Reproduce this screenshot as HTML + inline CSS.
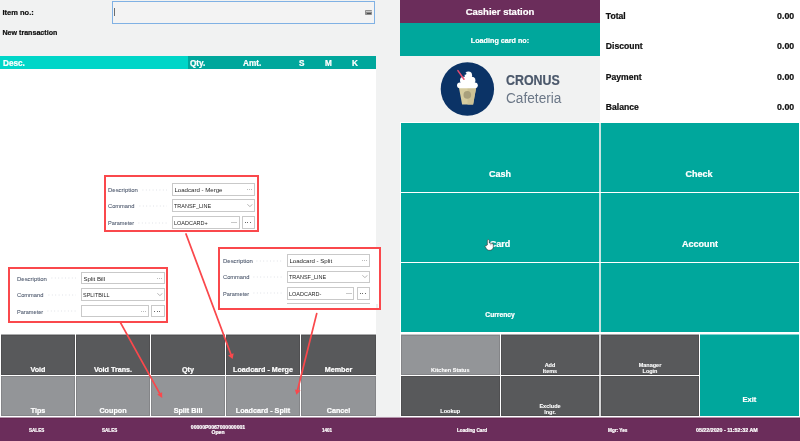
<!DOCTYPE html>
<html><head><meta charset="utf-8">
<style>
*{margin:0;padding:0;box-sizing:border-box}
html,body{width:800px;height:441px;overflow:hidden;background:#f1f2f2;font-family:"Liberation Sans",sans-serif}
.a{position:absolute}
.b{font-weight:bold;-webkit-text-stroke:0.22px currentColor}
.t{position:absolute;white-space:nowrap;line-height:1}
.w{color:#fff}
.teal{background:#00a79c}
.dg{background:#58595b}
.lg{background:#939598}
.pu{background:#6b2d5b}
.btn{position:absolute;box-shadow:inset 0 0 0 1px rgba(0,0,0,0.1)}
.btn span{position:absolute;left:0;right:0;text-align:center;color:#fff;font-weight:bold;white-space:nowrap;line-height:1;-webkit-text-stroke:0.22px #fff}
.sx{transform-origin:0 0}
</style></head><body>
<div style="position:absolute;left:0;top:0;width:800px;height:441px;will-change:transform">
<div class="t b" style="left:2.5px;top:9px;font-size:7.5px;color:#111;">Item no.:</div>
<div class="a" style="left:112px;top:1px;width:263px;height:23px;border:1px solid #80b1e4;background:#f3f3f3"></div>
<div class="a" style="left:114px;top:8px;width:1.1px;height:8.3px;background:#6d6d6d"></div>
<div class="a" style="left:365.2px;top:9.9px;width:7.2px;height:5px;background:#8e8e8e;border-radius:0.8px"></div>
<div class="a" style="left:366px;top:10.8px;width:5.6px;height:1.6px;background:#c9c9c9"></div>
<div class="a" style="left:367px;top:12.9px;width:3.6px;height:1px;background:#4f4f4f"></div>
<div class="t b" style="left:2.5px;top:29.9px;font-size:7.1px;color:#111;">New transaction</div>
<div class="a" style="left:0;top:56px;width:188px;height:13px;background:#00d6c8"></div>
<div class="a" style="left:188px;top:56px;width:188px;height:13px;background:#00a79c"></div>
<div class="t b" style="left:3px;top:59.8px;font-size:8.2px;color:#fff;">Desc.</div>
<div class="t b" style="left:190px;top:59.8px;font-size:8.2px;color:#fff;">Qty.</div>
<div class="t b" style="left:243px;top:59.8px;font-size:8.2px;color:#fff;">Amt.</div>
<div class="t b" style="left:299px;top:59.8px;font-size:8.2px;color:#fff;">S</div>
<div class="t b" style="left:325px;top:59.8px;font-size:8.2px;color:#fff;">M</div>
<div class="t b" style="left:352px;top:59.8px;font-size:8.2px;color:#fff;">K</div>
<div class="a" style="left:0;top:69px;width:376px;height:265px;background:#fff"></div>
<div class="a" style="left:0;top:334px;width:376px;height:84px;background:#fff"></div>
<div class="btn dg" style="left:1px;top:334px;width:74px;height:41px;border-top:1px solid #abacad"><span style="top:30.5px;font-size:7.2px">Void</span></div>
<div class="btn dg" style="left:76px;top:334px;width:74px;height:41px;border-top:1px solid #abacad"><span style="top:30.5px;font-size:7.2px">Void Trans.</span></div>
<div class="btn dg" style="left:151px;top:334px;width:74px;height:41px;border-top:1px solid #abacad"><span style="top:30.5px;font-size:7.2px">Qty</span></div>
<div class="btn dg" style="left:226px;top:334px;width:74px;height:41px;border-top:1px solid #abacad"><span style="top:30.5px;font-size:7.2px">Loadcard - Merge</span></div>
<div class="btn dg" style="left:301px;top:334px;width:75px;height:41px;border-top:1px solid #abacad"><span style="top:30.5px;font-size:7.2px">Member</span></div>
<div class="btn lg" style="left:1px;top:376px;width:74px;height:40px"><span style="top:30.5px;font-size:7.2px">Tips</span></div>
<div class="btn lg" style="left:76px;top:376px;width:74px;height:40px"><span style="top:30.5px;font-size:7.2px">Coupon</span></div>
<div class="btn lg" style="left:151px;top:376px;width:74px;height:40px"><span style="top:30.5px;font-size:7.2px">Split Bill</span></div>
<div class="btn lg" style="left:226px;top:376px;width:74px;height:40px"><span style="top:30.5px;font-size:7.2px">Loadcard - Split</span></div>
<div class="btn lg" style="left:301px;top:376px;width:75px;height:40px"><span style="top:30.5px;font-size:7.2px">Cancel</span></div>
<div class="a" style="left:104px;top:175px;width:155px;height:57px;border:2px solid #fa484c;background:#fff"></div>
<div class="t sx" style="left:108px;top:187.30px;font-size:6.1px;color:#4f5a6e;transform:scaleX(0.98);-webkit-text-stroke:0.08px #4f5a6e">Description</div>
<svg class="a" style="left:141.60px;top:188.50px" width="25.40" height="2"><line x1="0.5" y1="1" x2="25.40" y2="1" stroke="#cfd3da" stroke-width="0.8" stroke-dasharray="0.8 2.6"/></svg>
<div class="a" style="left:172px;top:183px;width:83.00px;height:13px;border:1px solid #c9c9c9;background:#fff"></div>
<div class="a" style="left:246.70px;top:189.00px;width:0.9px;height:0.9px;background:#bcbcbc"></div>
<div class="a" style="left:248.90px;top:189.00px;width:0.9px;height:0.9px;background:#bcbcbc"></div>
<div class="a" style="left:251.10px;top:189.00px;width:0.9px;height:0.9px;background:#bcbcbc"></div>
<div class="t sx" style="left:174.40px;top:187.30px;font-size:6.1px;color:#262626;transform:scaleX(1.0)">Loadcard - Merge</div>
<div class="t sx" style="left:108px;top:203.30px;font-size:6.1px;color:#4f5a6e;transform:scaleX(0.94);-webkit-text-stroke:0.08px #4f5a6e">Command</div>
<svg class="a" style="left:138.50px;top:204.50px" width="28.50" height="2"><line x1="0.5" y1="1" x2="28.50" y2="1" stroke="#cfd3da" stroke-width="0.8" stroke-dasharray="0.8 2.6"/></svg>
<div class="a" style="left:172px;top:199px;width:83.00px;height:13px;border:1px solid #c9c9c9;background:#fff"></div>
<svg class="a" style="left:246.70px;top:204.10px" width="6" height="3.5" viewBox="0 0 6 3.5"><polyline points="0.3,0.3 2.9,2.6 5.5,0.3" fill="none" stroke="#8a8a8a" stroke-width="0.6"/></svg>
<div class="t sx" style="left:174.40px;top:203.30px;font-size:6.1px;color:#262626;transform:scaleX(0.9)">TRANSF_LINE</div>
<div class="t sx" style="left:108px;top:220.30px;font-size:6.1px;color:#4f5a6e;transform:scaleX(0.92);-webkit-text-stroke:0.08px #4f5a6e">Parameter</div>
<svg class="a" style="left:138.00px;top:221.50px" width="29.00" height="2"><line x1="0.5" y1="1" x2="29.00" y2="1" stroke="#cfd3da" stroke-width="0.8" stroke-dasharray="0.8 2.6"/></svg>
<div class="a" style="left:172px;top:216px;width:67.60px;height:13px;border:1px solid #c9c9c9;background:#fff"></div>
<div class="a" style="left:241.60px;top:216px;width:13.40px;height:13px;border:1px solid #c9c9c9;background:#fff"></div>
<div class="a" style="left:244.90px;top:222.00px;width:1px;height:1px;background:#6a6a6a"></div>
<div class="a" style="left:247.20px;top:222.00px;width:1px;height:1px;background:#6a6a6a"></div>
<div class="a" style="left:249.50px;top:222.00px;width:1px;height:1px;background:#6a6a6a"></div>
<div class="a" style="left:231.10px;top:222.20px;width:5.7px;height:0.7px;background:#c8c8c8"></div>
<div class="t sx" style="left:174.40px;top:220.30px;font-size:6.1px;color:#262626;transform:scaleX(0.9)">LOADCARD+</div>
<div class="a" style="left:8px;top:267px;width:160px;height:56px;border:2px solid #fa484c;background:#fff"></div>
<div class="t sx" style="left:17px;top:275.60px;font-size:6.1px;color:#4f5a6e;transform:scaleX(0.98);-webkit-text-stroke:0.08px #4f5a6e">Description</div>
<svg class="a" style="left:50.60px;top:277.20px" width="25.40" height="2"><line x1="0.5" y1="1" x2="25.40" y2="1" stroke="#cfd3da" stroke-width="0.8" stroke-dasharray="0.8 2.6"/></svg>
<div class="a" style="left:81px;top:272px;width:84.00px;height:12.4px;border:1px solid #c9c9c9;background:#fff"></div>
<div class="a" style="left:156.70px;top:277.70px;width:0.9px;height:0.9px;background:#bcbcbc"></div>
<div class="a" style="left:158.90px;top:277.70px;width:0.9px;height:0.9px;background:#bcbcbc"></div>
<div class="a" style="left:161.10px;top:277.70px;width:0.9px;height:0.9px;background:#bcbcbc"></div>
<div class="t sx" style="left:83.40px;top:275.60px;font-size:6.1px;color:#262626;transform:scaleX(1.0)">Split Bill</div>
<div class="t sx" style="left:17px;top:291.90px;font-size:6.1px;color:#4f5a6e;transform:scaleX(0.94);-webkit-text-stroke:0.08px #4f5a6e">Command</div>
<svg class="a" style="left:47.50px;top:293.50px" width="28.50" height="2"><line x1="0.5" y1="1" x2="28.50" y2="1" stroke="#cfd3da" stroke-width="0.8" stroke-dasharray="0.8 2.6"/></svg>
<div class="a" style="left:81px;top:288.3px;width:84.00px;height:12.4px;border:1px solid #c9c9c9;background:#fff"></div>
<svg class="a" style="left:156.70px;top:293.10px" width="6" height="3.5" viewBox="0 0 6 3.5"><polyline points="0.3,0.3 2.9,2.6 5.5,0.3" fill="none" stroke="#8a8a8a" stroke-width="0.6"/></svg>
<div class="t sx" style="left:83.40px;top:291.90px;font-size:6.1px;color:#262626;transform:scaleX(0.9)">SPLITBILL</div>
<div class="t sx" style="left:17px;top:308.70px;font-size:6.1px;color:#4f5a6e;transform:scaleX(0.92);-webkit-text-stroke:0.08px #4f5a6e">Parameter</div>
<svg class="a" style="left:47.00px;top:310.30px" width="29.00" height="2"><line x1="0.5" y1="1" x2="29.00" y2="1" stroke="#cfd3da" stroke-width="0.8" stroke-dasharray="0.8 2.6"/></svg>
<div class="a" style="left:81px;top:305.1px;width:67.60px;height:12.4px;border:1px solid #c9c9c9;background:#fff"></div>
<div class="a" style="left:151.00px;top:305.1px;width:14.00px;height:12.4px;border:1px solid #c9c9c9;background:#fff"></div>
<div class="a" style="left:154.30px;top:310.80px;width:1px;height:1px;background:#6a6a6a"></div>
<div class="a" style="left:156.60px;top:310.80px;width:1px;height:1px;background:#6a6a6a"></div>
<div class="a" style="left:158.90px;top:310.80px;width:1px;height:1px;background:#6a6a6a"></div>
<div class="a" style="left:140.80px;top:310.80px;width:0.9px;height:0.9px;background:#bcbcbc"></div>
<div class="a" style="left:142.90px;top:310.80px;width:0.9px;height:0.9px;background:#bcbcbc"></div>
<div class="a" style="left:145.00px;top:310.80px;width:0.9px;height:0.9px;background:#bcbcbc"></div>
<div class="a" style="left:218px;top:247px;width:163px;height:63px;border:2px solid #fa484c;background:#fff"></div>
<div class="t sx" style="left:222.7px;top:257.80px;font-size:6.1px;color:#4f5a6e;transform:scaleX(0.98);-webkit-text-stroke:0.08px #4f5a6e">Description</div>
<svg class="a" style="left:256.30px;top:259.55px" width="25.70" height="2"><line x1="0.5" y1="1" x2="25.70" y2="1" stroke="#cfd3da" stroke-width="0.8" stroke-dasharray="0.8 2.6"/></svg>
<div class="a" style="left:287px;top:254.3px;width:83.00px;height:12.5px;border:1px solid #c9c9c9;background:#fff"></div>
<div class="a" style="left:361.70px;top:260.05px;width:0.9px;height:0.9px;background:#bcbcbc"></div>
<div class="a" style="left:363.90px;top:260.05px;width:0.9px;height:0.9px;background:#bcbcbc"></div>
<div class="a" style="left:366.10px;top:260.05px;width:0.9px;height:0.9px;background:#bcbcbc"></div>
<div class="t sx" style="left:289.40px;top:257.80px;font-size:6.1px;color:#262626;transform:scaleX(1.0)">Loadcard - Split</div>
<div class="t sx" style="left:222.7px;top:274.00px;font-size:6.1px;color:#4f5a6e;transform:scaleX(0.94);-webkit-text-stroke:0.08px #4f5a6e">Command</div>
<svg class="a" style="left:253.20px;top:275.75px" width="28.80" height="2"><line x1="0.5" y1="1" x2="28.80" y2="1" stroke="#cfd3da" stroke-width="0.8" stroke-dasharray="0.8 2.6"/></svg>
<div class="a" style="left:287px;top:270.5px;width:83.00px;height:12.5px;border:1px solid #c9c9c9;background:#fff"></div>
<svg class="a" style="left:361.70px;top:275.35px" width="6" height="3.5" viewBox="0 0 6 3.5"><polyline points="0.3,0.3 2.9,2.6 5.5,0.3" fill="none" stroke="#8a8a8a" stroke-width="0.6"/></svg>
<div class="t sx" style="left:289.40px;top:274.00px;font-size:6.1px;color:#262626;transform:scaleX(0.9)">TRANSF_LINE</div>
<div class="t sx" style="left:222.7px;top:290.70px;font-size:6.1px;color:#4f5a6e;transform:scaleX(0.92);-webkit-text-stroke:0.08px #4f5a6e">Parameter</div>
<svg class="a" style="left:252.70px;top:292.45px" width="29.30" height="2"><line x1="0.5" y1="1" x2="29.30" y2="1" stroke="#cfd3da" stroke-width="0.8" stroke-dasharray="0.8 2.6"/></svg>
<div class="a" style="left:287px;top:287.2px;width:67.40px;height:12.5px;border:1px solid #c9c9c9;background:#fff"></div>
<div class="a" style="left:356.60px;top:287.2px;width:13.40px;height:12.5px;border:1px solid #c9c9c9;background:#fff"></div>
<div class="a" style="left:359.90px;top:292.95px;width:1px;height:1px;background:#6a6a6a"></div>
<div class="a" style="left:362.20px;top:292.95px;width:1px;height:1px;background:#6a6a6a"></div>
<div class="a" style="left:364.50px;top:292.95px;width:1px;height:1px;background:#6a6a6a"></div>
<div class="a" style="left:345.90px;top:293.15px;width:5.7px;height:0.7px;background:#c8c8c8"></div>
<div class="t sx" style="left:289.40px;top:290.70px;font-size:6.1px;color:#262626;transform:scaleX(0.9)">LOADCARD-</div>
<div class="a" style="left:287px;top:303.3px;width:83px;height:1px;background:#c9c9c9"></div>
<div class="a" style="left:376.3px;top:303.8px;width:2.2px;height:4px;background:#eceeee"></div>
<div class="a pu" style="left:400px;top:0;width:200px;height:23px"></div>
<div class="t b w" style="left:400px;width:200px;text-align:center;top:7px;font-size:9.5px">Cashier station</div>
<div class="a teal" style="left:400px;top:23px;width:200px;height:33px"></div>
<div class="t b w" style="left:400px;width:200px;text-align:center;top:37px;font-size:7.2px">Loading card no:</div>
<div class="a" style="left:600px;top:0;width:200px;height:123px;background:#fff"></div>
<div class="t b" style="left:605.8px;top:11.8px;font-size:8.6px;color:#111;">Total</div>
<div class="t b" style="right:5.8px;top:11.8px;font-size:8.8px;color:#111">0.00</div>
<div class="t b" style="left:605.8px;top:42.3px;font-size:8.6px;color:#111;">Discount</div>
<div class="t b" style="right:5.8px;top:42.3px;font-size:8.8px;color:#111">0.00</div>
<div class="t b" style="left:605.8px;top:72.7px;font-size:8.6px;color:#111;">Payment</div>
<div class="t b" style="right:5.8px;top:72.7px;font-size:8.8px;color:#111">0.00</div>
<div class="t b" style="left:605.8px;top:102.9px;font-size:8.6px;color:#111;">Balance</div>
<div class="t b" style="right:5.8px;top:102.9px;font-size:8.8px;color:#111">0.00</div>
<svg class="a" style="left:440px;top:62px" width="55" height="55" viewBox="0 0 55 55">
  <circle cx="27.4" cy="27" r="26.7" fill="#0b3366"/>
  <polygon points="19,26.1 36.1,26.1 33.1,42.5 22.1,42.5" fill="#d6cc9f"/>
  <polygon points="27.5,26.1 36.1,26.1 33.1,42.5 27.5,42.5" fill="#cdc295"/>
  <circle cx="27.3" cy="32.9" r="3.8" fill="#a9a07c"/>
  <rect x="17" y="20.4" width="20.8" height="5.8" rx="2.9" fill="#fff"/>
  <rect x="20" y="14.8" width="15.4" height="7.5" rx="3.7" fill="#fff"/>
  <ellipse cx="28.4" cy="13.2" rx="3.7" ry="3.8" fill="#fff"/>
  <circle cx="25.2" cy="11.6" r="1.2" fill="#0b3366"/>
  <line x1="17.9" y1="8.6" x2="24" y2="17.2" stroke="#e64a70" stroke-width="1.5" stroke-linecap="round"/>
</svg>
<div class="t b sx" style="left:506px;top:73px;font-size:14px;color:#4b586b;transform:scaleX(0.886)">CRONUS</div>
<div class="t sx" style="left:506px;top:91px;font-size:14px;color:#6b7787;transform:scaleX(0.975)">Cafeteria</div>
<div class="a" style="left:400px;top:122px;width:400px;height:213px;background:#fff"></div>
<div class="btn teal" style="left:401px;top:123px;width:198px;height:69px;box-shadow:none"><span style="top:46.8px;font-size:9px;">Cash</span></div>
<div class="btn teal" style="left:601px;top:123px;width:198px;height:69px;box-shadow:none"><span style="top:46.8px;font-size:9px;left:-2px;">Check</span></div>
<div class="btn teal" style="left:401px;top:193px;width:198px;height:69px;box-shadow:none"><span style="top:46.8px;font-size:9px;">Card</span></div>
<div class="btn teal" style="left:601px;top:193px;width:198px;height:69px;box-shadow:none"><span style="top:46.8px;font-size:9px;">Account</span></div>
<div class="btn teal" style="left:401px;top:263px;width:198px;height:69px;box-shadow:none"><span style="top:49px;font-size:6.7px;">Currency</span></div>
<div class="btn teal" style="left:601px;top:263px;width:198px;height:69px;box-shadow:none"></div>
<div class="a" style="left:599px;top:123px;width:2px;height:69px;background:#c9e5e2"></div>
<div class="a" style="left:599px;top:193px;width:2px;height:69px;background:#c9e5e2"></div>
<div class="a" style="left:599px;top:263px;width:2px;height:69px;background:#c9e5e2"></div>
<div class="a" style="left:400px;top:332px;width:400px;height:86px;background:#fff"></div>
<div class="btn lg" style="left:401px;top:334px;width:98.6px;height:41px;border-top:1px solid #c9cacb"><span style="top:33px;font-size:5.5px;-webkit-text-stroke:0.1px #fff">Kitchen Status</span></div>
<div class="btn dg" style="left:501px;top:334px;width:98px;height:41px;border-top:1px solid #abacad"><span style="top:26.5px;font-size:5.5px;line-height:6px;-webkit-text-stroke:0.1px #fff">Add<br>Items</span></div>
<div class="btn dg" style="left:601px;top:334px;width:98px;height:41px;border-top:1px solid #abacad"><span style="top:26.6px;font-size:5.5px;line-height:6px;-webkit-text-stroke:0.1px #fff">Manager<br>Login</span></div>
<div class="btn dg" style="left:401px;top:376px;width:98.6px;height:40px"><span style="top:33px;font-size:5.5px;-webkit-text-stroke:0.1px #fff">Lookup</span></div>
<div class="btn dg" style="left:501px;top:376px;width:98px;height:40px"><span style="top:26.6px;font-size:5.5px;line-height:6px;-webkit-text-stroke:0.1px #fff">Exclude<br>Ingr.</span></div>
<div class="btn dg" style="left:601px;top:376px;width:98px;height:40px"></div>
<div class="btn teal" style="left:700px;top:334px;width:99px;height:82px;box-shadow:none;border-top:1px solid #80d3ce"><span style="top:61px;font-size:7.5px">Exit</span></div>
<div class="a" style="left:599px;top:334px;width:2px;height:41px;background:#d6d6d7"></div>
<div class="a" style="left:599px;top:376px;width:2px;height:40px;background:#d6d6d7"></div>
<div class="a pu" style="left:0;top:417px;width:800px;height:24px;border-top:1px solid #b596ae;box-shadow:inset 0 1px 0 #65284f"></div>
<div class="t b w sx" style="left:29px;top:427.6px;font-size:5.2px;transform:scaleX(0.88)">SALES</div>
<div class="t b w sx" style="left:102px;top:427.6px;font-size:5.2px;transform:scaleX(0.88)">SALES</div>
<div class="t b w" style="left:180px;width:76px;text-align:center;top:424.9px;font-size:5.1px;line-height:5.6px">00000P0067000000001<br>Open</div>
<div class="t b w sx" style="left:322px;top:427.6px;font-size:5.2px;transform:scaleX(0.88)">1401</div>
<div class="t b w sx" style="left:457px;top:427.9px;font-size:5.2px;transform:scaleX(0.9)">Loading Card</div>
<div class="t b w sx" style="left:608px;top:427.9px;font-size:5.2px;transform:scaleX(0.9)">Mgr: Yes</div>
<div class="t b w" style="left:696px;top:427.5px;font-size:5.3px">05/22/2020 - 11:52:32 AM</div>
<svg class="a" style="left:0;top:0" width="800" height="441" viewBox="0 0 800 441">
<g stroke="#fa484c" stroke-width="1.75" stroke-linecap="round">
<line x1="186" y1="234" x2="230.9" y2="354.3"/>
<line x1="120.6" y1="322.8" x2="159.8" y2="393.6"/>
<line x1="316.7" y1="313.6" x2="297.6" y2="390"/>
</g>
<g fill="#fa484c">
<polygon points="232.6,358.9 228.1,355.4 233.7,353.2"/>
<polygon points="162.2,397.9 157.2,394.6 162.1,392.2"/>
<polygon points="296.4,394.8 294.9,389.5 300.6,390.6"/>
</g>
</svg>
<svg class="a" style="left:484px;top:238px" width="11" height="14" viewBox="484 238 11 14">
<path d="M487.3,245 V240.3 Q488.3,238.9 489.3,240.3 V243 L492.8,243.5 Q493.4,243.8 493.3,245 V247.6 Q492.8,250.2 490.3,250.3 H488.6 Q487.2,250.2 486.3,248.6 L485.1,246.4 Q485.3,244.9 486.6,245.6 Z" fill="#fff" stroke="#2a2a2a" stroke-width="0.6" stroke-linejoin="round"/>
<path d="M490.5,243.2 V245.3 M491.9,243.4 V245.3" stroke="#777" stroke-width="0.4"/>
</svg>
</div>
</body></html>
